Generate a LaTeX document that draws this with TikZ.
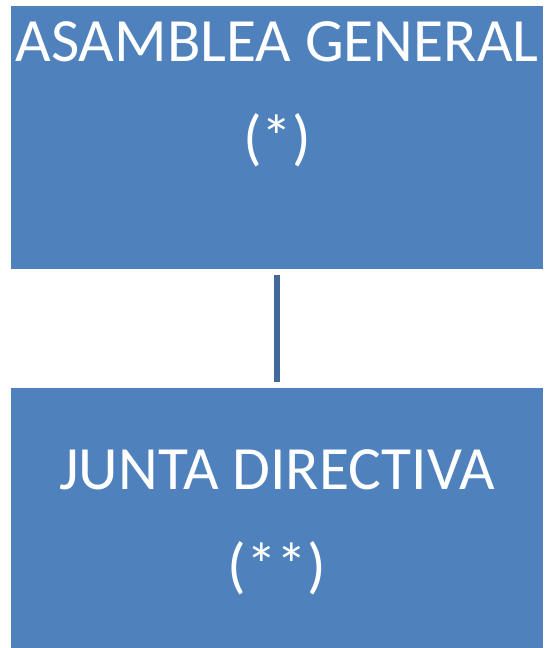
\documentclass[tikz,border=0pt]{standalone}
\usepackage{fontspec}
\setmainfont{Carlito}
\definecolor{boxblue}{HTML}{4F81BD}
\definecolor{lineblue}{HTML}{41699B}
\begin{document}
\begin{tikzpicture}[x=1pt,y=1pt,
  orgbox/.style={fill=boxblue,draw=none,minimum width=532pt,inner sep=0pt},
  boxtext/.style={text=white,font=\fontsize{61.5}{72}\selectfont,anchor=base,inner sep=0pt},
  link/.style={draw=lineblue,line width=5.5pt}]
\useasboundingbox (0,0) rectangle (544,648);
\node[orgbox,minimum height=263pt] (top) at (277,510.5) {};
\node[orgbox,minimum height=260pt] (bot) at (277,130) {};
\node[boxtext] (t1) at (277,586) {ASAMBLEA GENERAL};
\node[boxtext] (t2) at (277,489) {(*)};
\node[boxtext] (b1) at (277,158) {JUNTA DIRECTIVA};
\node[boxtext] (b2) at (277,61) {(**)};
\draw[link,shorten <=6pt,shorten >=5.5pt] (top.south) -- (bot.north);
\end{tikzpicture}
\end{document}
